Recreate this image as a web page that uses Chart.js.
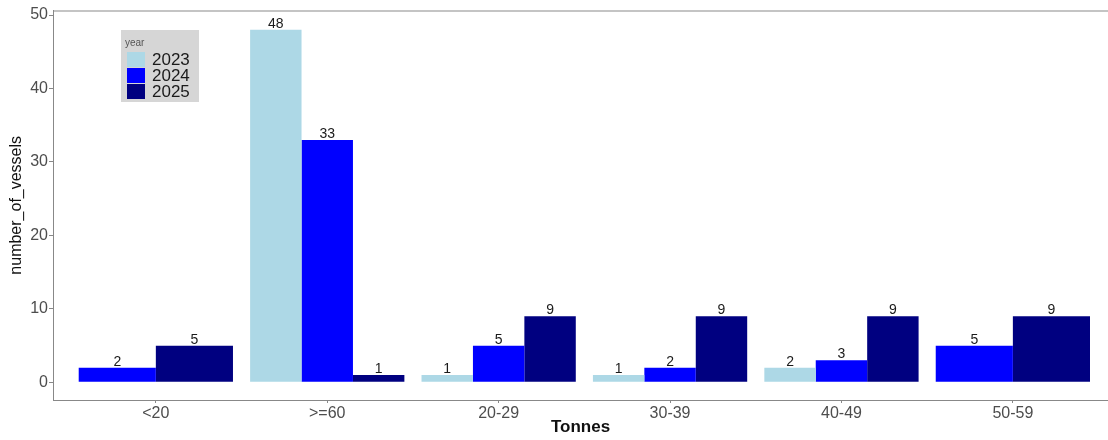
<!DOCTYPE html>
<html>
<head>
<meta charset="utf-8">
<script src="https://cdn.jsdelivr.net/npm/chart.js@4.4.1/dist/chart.umd.min.js"></script>
<style>
html,body{margin:0;padding:0;background:#fff;}
#wrap{width:1108px;height:440px;position:relative;}
</style>
</head>
<body>
<div id="wrap"><canvas id="c" width="1108" height="440"></canvas></div>
<script>
const categories = ['<20', '>=60', '20-29', '30-39', '40-49', '50-59'];
const years = ['2023', '2024', '2025'];
const values2023 = [null, 48, 1, 1, 2, null];
const values2024 = [2, 33, 5, 2, 3, 5];
const values2025 = [5, 1, 9, 9, 9, 9];
const yTicks = [0, 10, 20, 30, 40, 50];
const colors = ['#ADD8E6', '#0000FF', '#000080'];

const seriesValues = [values2023, values2024, values2025];
const toPoints = arr => arr.map((v, i) => ({x: i + 1, y: v}));

const FONT = '"Liberation Sans", Arial, Helvetica, sans-serif';

const panelPlugin = {
  id: 'panel',
  beforeDraw(chart) {
    const {ctx, chartArea: a} = chart;
    ctx.save();
    ctx.strokeStyle = '#b0b0b0';
    ctx.lineWidth = 1.5;
    ctx.beginPath();
    ctx.moveTo(a.left, a.top + 0.5);
    ctx.lineTo(a.right, a.top + 0.5);
    ctx.stroke();
    ctx.restore();
  }
};

const labelPlugin = {
  id: 'barLabels',
  afterDatasetsDraw(chart) {
    const ctx = chart.ctx;
    ctx.save();
    ctx.font = '14px ' + FONT;
    ctx.fillStyle = '#1a1a1a';
    ctx.textAlign = 'center';
    ctx.textBaseline = 'alphabetic';
    chart.data.datasets.forEach((ds, di) => {
      const meta = chart.getDatasetMeta(di);
      meta.data.forEach((bar, i) => {
        const v = ds.data[i].y;
        if (v === null || v === undefined) return;
        ctx.fillText(String(v), bar.x, bar.y - 2);
      });
    });
    ctx.restore();
  }
};

const legendPlugin = {
  id: 'insideLegend',
  afterDraw(chart) {
    const ctx = chart.ctx;
    const x0 = 121, y0 = 30, w = 78, h = 72;
    ctx.save();
    ctx.fillStyle = '#d6d6d6';
    ctx.fillRect(x0, y0, w, h);
    ctx.fillStyle = '#555';
    ctx.font = '10px ' + FONT;
    ctx.textBaseline = 'middle';
    ctx.textAlign = 'left';
    ctx.fillText('year', x0 + 4, y0 + 13);
    chart.data.datasets.forEach((ds, i) => {
      const ky = y0 + 22 + i * 16;
      ctx.fillStyle = ds.backgroundColor;
      ctx.fillRect(x0 + 6, ky, 18, 15);
      ctx.fillStyle = '#1a1a1a';
      ctx.font = '17px ' + FONT;
      ctx.fillText(ds.label, x0 + 31, ky + 8);
    });
    ctx.restore();
  }
};

new Chart(document.getElementById('c'), {
  type: 'bar',
  data: {
    datasets: years.map((y, i) => ({
      label: y,
      data: toPoints(seriesValues[i]),
      backgroundColor: colors[i],
      borderWidth: 0,
      skipNull: true,
      categoryPercentage: 0.9,
      barPercentage: 1.0
    }))
  },
  options: {
    responsive: false,
    animation: false,
    layout: {padding: {top: 7, right: 0, left: 0, bottom: 0}},
    plugins: {legend: {display: false}, tooltip: {enabled: false}},
    scales: {
      x: {
        type: 'linear',
        min: 0.4,
        max: 6.555,
        offset: false,
        afterBuildTicks: s => { s.ticks = categories.map((c, i) => ({value: i + 1})); },
        afterFit: s => { s.height = 40; },
        ticks: {
          callback: v => categories[Math.round(v) - 1],
          font: {family: FONT, size: 16},
          color: '#4d4d4d',
          padding: 1,
          maxRotation: 0,
          autoSkip: false
        },
        grid: {drawOnChartArea: false, drawTicks: true, tickLength: 3, color: '#888', offset: false},
        border: {display: true, color: '#888'},
        title: {display: true, text: 'Tonnes', font: {family: FONT, size: 17, weight: 'bold'}, color: '#111', padding: {top: 0, bottom: 2}}
      },
      y: {
        type: 'linear',
        min: -2.4,
        max: 50.6,
        afterBuildTicks: s => { s.ticks = yTicks.map(v => ({value: v})); },
        afterFit: s => { s.width = 53; },
        ticks: {font: {family: FONT, size: 16}, color: '#4d4d4d', padding: 1},
        grid: {drawOnChartArea: false, drawTicks: true, tickLength: 4, color: '#888'},
        border: {display: true, color: '#888'},
        title: {display: true, text: 'number_of_vessels', font: {family: FONT, size: 16}, color: '#111', padding: {top: 7, bottom: 0}}
      }
    }
  },
  plugins: [panelPlugin, labelPlugin, legendPlugin]
});
</script>
</body>
</html>
